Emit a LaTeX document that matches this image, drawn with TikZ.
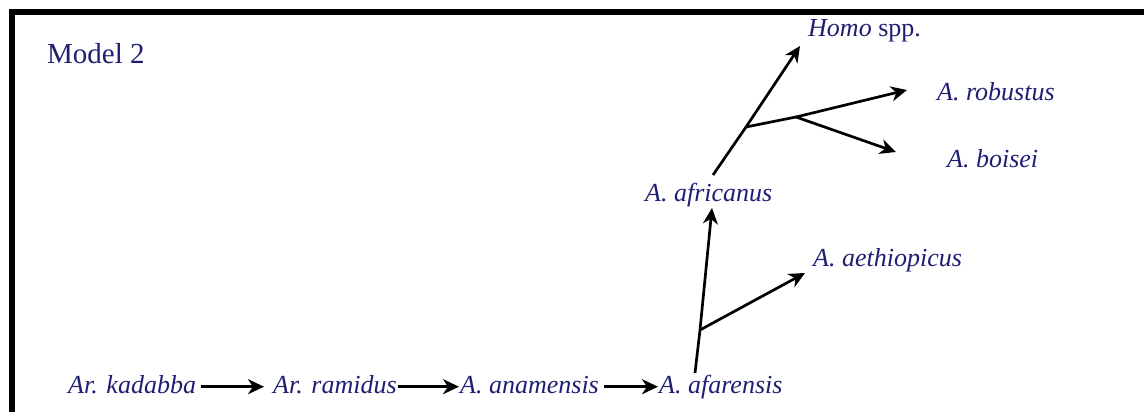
\documentclass[tikz,border=0pt]{standalone}
\usepackage{fontspec}
\setmainfont{Liberation Serif}
\usetikzlibrary{arrows.meta}
\definecolor{txt}{RGB}{30,30,115}
\tikzset{
  lbl/.style={text=txt, inner sep=0pt, anchor=base west, font=\fontsize{26}{30}\selectfont\itshape},
  arr/.style={line width=2.7pt, -{Stealth[length=16pt,width=15pt,inset=5pt]}},
  ln/.style={line width=2.7pt},
  frame/.style={line width=6pt, black}
}
\begin{document}
\begin{tikzpicture}[x=1pt,y=-1pt]
\useasboundingbox (0,0) rectangle (1144,412);
% frame (top and left visible)
\coordinate (f1) at (12,412);
\coordinate (f2) at (12,12);
\coordinate (f3) at (1150,12);
\draw[frame] (f1) -- (f2) -- (f3);
% labels
\node[lbl, font=\fontsize{29}{34}\selectfont\upshape] (model) at (47,64) {Model 2};
\node[lbl] (kad) at (68,393) {Ar. kadabba};
\node[lbl] (ram) at (273,393) {Ar. ramidus};
\node[lbl] (ana) at (460,393) {A. anamensis};
\node[lbl] (afa) at (659,393) {A. afarensis};
\node[lbl] (afr) at (645,201) {A. africanus};
\node[lbl] (aet) at (813,266) {A. aethiopicus};
\node[lbl] (homo) at (808,37) {Homo \upshape spp.};
\node[lbl] (rob) at (937,101) {A. robustus};
\node[lbl] (boi) at (947,167) {A. boisei};
% bottom chain
\draw[arr] ([xshift=5pt,yshift=4pt]kad.mid east) -- ([xshift=-9pt,yshift=4pt]ram.mid west);
\draw[arr] ([xshift=1pt,yshift=4pt]ram.mid east) -- ([xshift=-1pt,yshift=4pt]ana.mid west);
\draw[arr] ([xshift=5pt,yshift=4pt]ana.mid east) -- ([xshift=-1pt,yshift=4pt]afa.mid west);
% branching
\coordinate (s1) at (695,373);
\coordinate (b1) at (700,330);
\coordinate (t1) at (712,208);
\coordinate (t2) at (805,273);
\draw[ln] (s1) -- (b1);
\draw[arr] (b1) -- (t1);
\draw[arr] (b1) -- (t2);
\coordinate (s2) at (713,175);
\coordinate (b2) at (746,127);
\coordinate (t3) at (800,46);
\coordinate (b3) at (796,117);
\coordinate (t4) at (907,90);
\coordinate (t5) at (896,152);
\draw[ln] (s2) -- (b2);
\draw[arr] (b2) -- (t3);
\draw[ln] (b2) -- (b3);
\draw[arr] (b3) -- (t4);
\draw[arr] (b3) -- (t5);
\end{tikzpicture}
\end{document}
